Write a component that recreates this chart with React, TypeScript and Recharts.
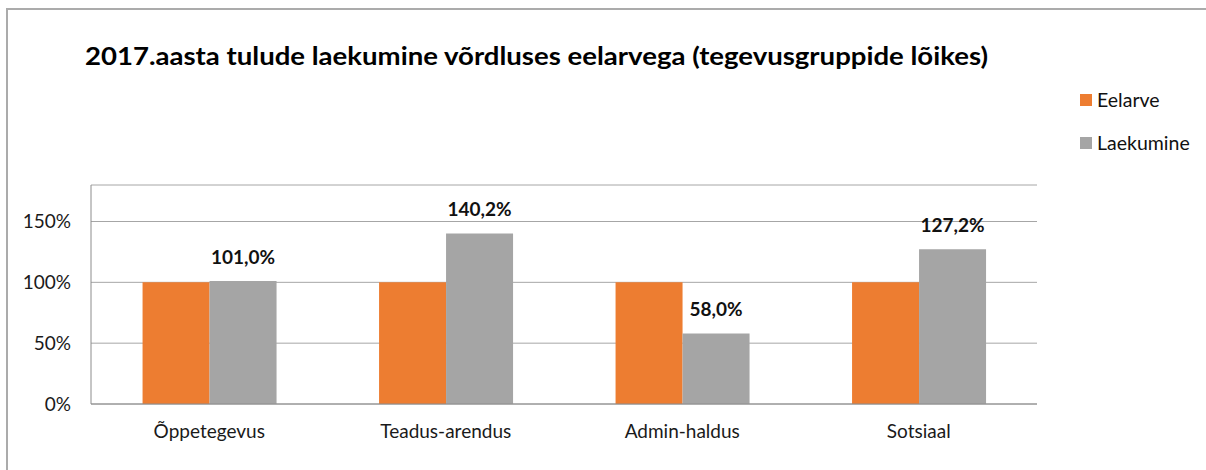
import React from 'react';
import { BarChart, Bar, XAxis, YAxis, CartesianGrid, LabelList } from 'recharts';

const categories = ['Õppetegevus', 'Teadus-arendus', 'Admin-haldus', 'Sotsiaal'];
const eelarve = [1.0, 1.0, 1.0, 1.0];
const laekumine = [1.01, 1.402, 0.58, 1.272];
const yTicks = [0, 0.5, 1, 1.5];

const title = '2017.aasta tulude laekumine võrdluses eelarvega (tegevusgruppide lõikes)';

const seriesColors = {
  eelarve: '#ED7D31',
  laekumine: '#A5A5A5',
};

const data = categories.map((name, i) => ({
  name,
  Eelarve: eelarve[i],
  Laekumine: laekumine[i],
}));

const font = 'Lato, "Noto Sans", sans-serif';

const pct = (v: number) => `${Math.round(v * 100)}%`;
const pctLabel = (v: number) => `${(v * 100).toFixed(1).replace('.', ',')}%`;

const renderValueLabel = (props: any) => {
  const { x, y, width, value } = props;
  return (
    <text
      x={Number(x) + Number(width) / 2}
      y={Number(y) - 17}
      textAnchor="middle"
      fontFamily={font}
      fontWeight={700}
      fontSize={19}
      fill="#111"
    >
      {pctLabel(Number(value))}
    </text>
  );
};

const legendItems = [
  { label: 'Eelarve', color: seriesColors.eelarve, top: 94 },
  { label: 'Laekumine', color: seriesColors.laekumine, top: 137 },
];

export default function App() {
  return (
    <div
      style={{
        position: 'absolute',
        left: 0,
        top: 0,
        width: 1206,
        height: 470,
        overflow: 'hidden',
        background: '#fff',
        fontFamily: font,
      }}
    >
      {/* chart frame: only the left and top edges show in the picture */}
      <div
        style={{
          position: 'absolute',
          left: 6,
          top: 8,
          width: 1400,
          height: 700,
          borderLeft: '2px solid #ababab',
          borderTop: '2px solid #ababab',
        }}
      />

      <svg style={{ position: 'absolute', left: 0, top: 0 }} width={1206} height={90}>
        <text
          x={85}
          y={65}
          fontFamily={font}
          fontWeight={700}
          fontSize={25}
          fill="#000"
          textLength={903}
          lengthAdjust="spacingAndGlyphs"
        >
          {title}
        </text>
      </svg>

      {legendItems.map((item) => (
        <div
          key={item.label}
          style={{ position: 'absolute', left: 1080, top: item.top, height: 12, display: 'flex', alignItems: 'center' }}
        >
          <span style={{ display: 'inline-block', width: 12, height: 12, background: item.color }} />
          <span style={{ marginLeft: 5, fontSize: 19.5, color: '#111', lineHeight: '12px', whiteSpace: 'nowrap' }}>
            {item.label}
          </span>
        </div>
      ))}

      <div style={{ position: 'absolute', left: 0, top: 0 }}>
        <BarChart
          width={1206}
          height={470}
          data={data}
          margin={{ top: 185, right: 169, bottom: 36, left: 0 }}
          barCategoryGap="21.8%"
          barGap={0}
        >
          <CartesianGrid vertical={false} stroke="#a6a6a6" />
          <XAxis
            dataKey="name"
            height={30}
            axisLine={{ stroke: '#8c8c8c' }}
            tickLine={false}
            tickSize={0}
            tickMargin={21}
            tick={{ fontFamily: font, fontSize: 19, fill: '#1a1a1a' }}
          />
          <YAxis
            width={91}
            domain={[0, 1.8]}
            ticks={yTicks}
            tickFormatter={pct}
            axisLine={{ stroke: '#8c8c8c' }}
            tickLine={false}
            tickSize={0}
            tickMargin={20}
            tick={{ fontFamily: font, fontSize: 19, fill: '#1a1a1a' }}
          />
          <Bar dataKey="Eelarve" fill={seriesColors.eelarve} isAnimationActive={false} />
          <Bar dataKey="Laekumine" fill={seriesColors.laekumine} isAnimationActive={false}>
            <LabelList dataKey="Laekumine" content={renderValueLabel} />
          </Bar>
        </BarChart>
      </div>
    </div>
  );
}
